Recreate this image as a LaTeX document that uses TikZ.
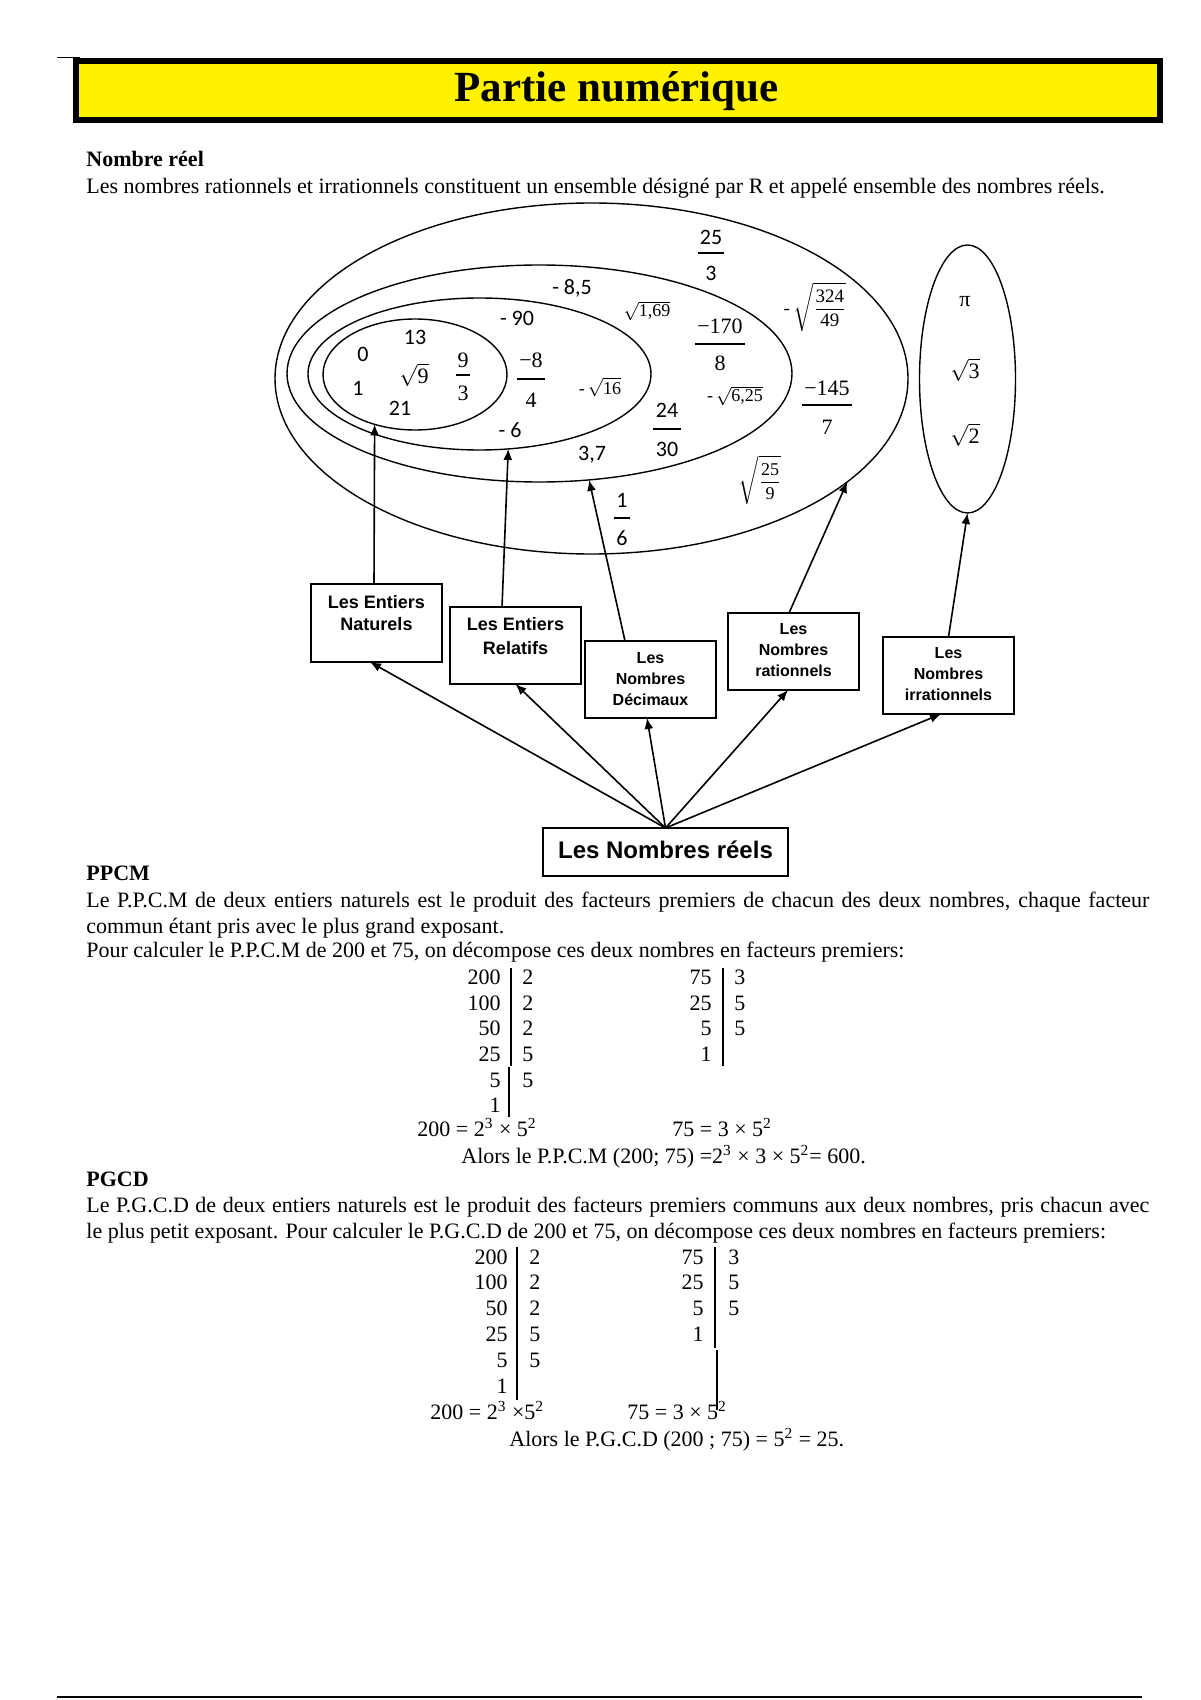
\documentclass[tikz,border=0pt]{standalone}
\usepackage{fontspec}
\setmainfont{Liberation Serif}
\newfontfamily\arialf{Liberation Sans}
\newfontfamily\calib{Carlito}
\usetikzlibrary{shapes.geometric,arrows.meta}
\newcommand\frc[9]{%
  \node[#2] (#1n) at (#3,#5) {#8};
  \draw[fracbar] ({#3-#4},#6) -- ({#3+#4},#6);
  \node[#2] (#1d) at (#3,#7) {#9};}
\begin{document}
\begin{tikzpicture}[x=0.5pt,y=-0.5pt,
  txt/.style={inner sep=0, anchor=base west, font=\fontsize{11}{13}\selectfont},
  btxt/.style={inner sep=0, anchor=base west, font=\bfseries\fontsize{11}{13}\selectfont},
  cal/.style={inner sep=0, font=\calib\fontsize{11}{13}\selectfont},
  tms/.style={inner sep=0, font=\fontsize{11}{13}\selectfont},
  sm/.style={inner sep=0, font=\fontsize{9}{11}\selectfont},
  fracbar/.style={line width=0.6pt},
  ell/.style={draw, ellipse, inner sep=0, outer sep=0, line width=0.7pt},
  cbox/.style={draw, rectangle, inner sep=0, outer sep=0, line width=0.9pt, minimum width=65.5pt, minimum height=38.5pt},
  lbl/.style={align=center, inner sep=0, font=\arialf\bfseries\fontsize{9}{11}\selectfont},
  lbls/.style={align=center, inner sep=0, font=\arialf\bfseries\fontsize{8}{10.5}\selectfont},
  arr/.style={-{Latex[length=5.5pt,width=4.5pt]}, line width=0.8pt},
  tn/.style={inner sep=0, anchor=base east, font=\fontsize{11}{13}\selectfont},
  tf/.style={inner sep=0, anchor=base west, font=\fontsize{11}{13}\selectfont},
  tbar/.style={line width=0.75pt}]
\useasboundingbox (0,0) rectangle (1200,1700);
% header
\draw[line width=0.6pt] (57,57.5) -- (80,57.5);
\node[draw, fill=yellow, line width=3pt, inner sep=0, minimum width=542pt, minimum height=29.5pt] (titlebox) at (618,90.5) {};
\node[inner sep=0, anchor=base, font=\bfseries\fontsize{21.5}{24}\selectfont] (title) at (616.5,102) {Partie numérique};
\node[btxt] (h1) at (86,167) {Nombre réel};
\node[txt] (p1) at (86,194) {Les nombres rationnels et irrationnels constituent un ensemble désigné par R et appelé ensemble des nombres réels.};
% ellipses
\node[ell, minimum width=316.5pt, minimum height=175.5pt] (eQ) at (591.5,378.5) {};
\node[ell, minimum width=252.5pt, minimum height=108.5pt] (eD) at (539.5,373.5) {};
\node[ell, minimum width=171.5pt, minimum height=76pt] (eR) at (479.5,374) {};
\node[ell, minimum width=92pt, minimum height=55.5pt] (eN) at (415,374.5) {};
\node[ell, minimum width=48pt, minimum height=134pt] (eI) at (967.5,379) {};
% contents
\node[cal] (n0) at (363,354) {0};
\node[cal] (n13) at (415,337) {13};
\node[cal] (n1) at (358,388) {1};
\node[cal] (n21) at (400,408) {21};
\node[tms] (s9) at (414,375) {$\sqrt{\mbox{9}}$};
\frc{f93}{tms}{463}{7}{360}{375}{393}{9}{3}
\frc{f84}{tms}{531}{14}{360}{379}{400}{−8}{4}
\node[cal] (m90) at (517,318) {- 90};
\node[cal] (m85) at (572,288) {- 8,5};
\node[cal] (m6) at (510,430) {- 6};
\node[cal] (d37) at (592,455) {3,7};
\node[sm] (s169) at (647,311) {$\sqrt{\mbox{1,69}}$};
\node[sm] (s16) at (600,387) {-\,$\sqrt{\mbox{16}}$};
\node[sm] (s625) at (735,396) {-\,$\sqrt{\mbox{6,25}}$};
\frc{f253}{cal}{711}{13}{237}{253}{273}{25}{3}
\frc{f2430}{cal}{667}{14}{410}{429}{449}{24}{30}
\frc{f16}{cal}{622}{8}{500}{518}{538}{1}{6}
\frc{f170}{tms}{720}{25}{326}{344}{363}{−170}{8}
\frc{f145}{tms}{827}{25}{388}{405}{427}{−145}{7}
\node[inner sep=0, font=\fontsize{9.5}{11}\selectfont] (s324) at (815,307) {-\,$\sqrt{\displaystyle\frac{\mbox{324}}{\mbox{49}}}$};
\node[inner sep=0, font=\fontsize{9}{11}\selectfont] (s259) at (760,480) {$\sqrt{\displaystyle\frac{\mbox{25}}{\mbox{9}}}$};
\node[tms] (pi) at (965,302) {π};
\node[tms] (s3) at (965,370) {$\sqrt{\mbox{3}}$};
\node[tms] (s2) at (965,435) {$\sqrt{\mbox{2}}$};
% boxes
\node[cbox, minimum height=39pt] (nat) at (376.5,623) {};
\node[lbl] (natT) at (376.5,613) {Les Entiers\\Naturels};
\node[cbox] (rel) at (515.5,645.5) {};
\node[lbl, font=\arialf\bfseries\fontsize{9}{12}\selectfont] (relT) at (515.5,636) {Les Entiers\\Relatifs};
\node[cbox] (dec) at (650.5,679.5) {};
\node[lbls] (decT) at (650.5,679) {Les\\Nombres\\Décimaux};
\node[cbox] (rat) at (793.5,651.5) {};
\node[lbls] (ratT) at (793.5,650) {Les\\Nombres\\rationnels};
\node[cbox] (irr) at (948.5,675.5) {};
\node[lbls] (irrT) at (948.5,674) {Les\\Nombres\\irrationnels};
\node[draw, rectangle, inner sep=0, outer sep=0, line width=0.9pt, minimum width=122.5pt, minimum height=24pt] (reel) at (665.5,852) {};
\node[inner sep=0, anchor=base, font=\arialf\bfseries\fontsize{12}{14}\selectfont] (reelT) at (665.5,858) {Les Nombres réels};
% arrows up to sets
\draw[arr] ([xshift=-1.25pt]nat.north) -- (eN.-129.6);
\draw[arr] ([xshift=-6.75pt]rel.north) -- (eR.-69.9);
\draw[arr] ([xshift=-12.75pt]dec.north) -- (eD.-65.5);
\draw[arr] ([xshift=-2.25pt]rat.north) -- (eQ.-22.9);
\draw[arr] (irr.north) -- (eI.south);
% arrows from reels
\draw[arr] (reel.north) -- ([xshift=-3.25pt]nat.south);
\draw[arr] (reel.north) -- (rel.south);
\draw[arr] (reel.north) -- ([xshift=-1.75pt]dec.south);
\draw[arr] (reel.north) -- ([xshift=-2.75pt]rat.south);
\draw[arr] (reel.north) -- ([xshift=-3.75pt]irr.south);
% PPCM
\node[btxt] (h2) at (86,880) {PPCM};
\node[txt] (pp1) at (86,907) {\makebox[531.5pt][s]{Le P.P.C.M de deux entiers naturels est le produit des facteurs premiers de chacun des deux nombres, chaque facteur}};
\node[txt] (pp2) at (86,933) {commun étant pris avec le plus grand exposant.};
\node[txt] (pp3) at (86,957) {Pour calculer le P.P.C.M de 200 et 75, on décompose ces deux nombres en facteurs premiers:};
\node[tn] (a1) at (501,984) {200}; \node[tf] (b1) at (522,984) {2};
\node[tn] (a2) at (501,1010) {100}; \node[tf] (b2) at (522,1010) {2};
\node[tn] (a3) at (501,1035) {50}; \node[tf] (b3) at (522,1035) {2};
\node[tn] (a4) at (501,1061) {25}; \node[tf] (b4) at (522,1061) {5};
\node[tn] (a5) at (501,1087) {5}; \node[tf] (b5) at (522,1087) {5};
\node[tn] (a6) at (501,1112) {1};
\draw[tbar] (511,968) -- (511,1066);
\draw[tbar] (509,1067) -- (509,1117);
\node[tn] (c1) at (712,984) {75}; \node[tf] (d1) at (734,984) {3};
\node[tn] (c2) at (712,1010) {25}; \node[tf] (d2) at (734,1010) {5};
\node[tn] (c3) at (712,1035) {5}; \node[tf] (d3) at (734,1035) {5};
\node[tn] (c4) at (712,1061) {1};
\draw[tbar] (723,968) -- (723,1066);
\node[txt] (e1) at (417,1136) {200 = 2\textsuperscript{3} × 5\textsuperscript{2}};
\node[txt] (e2) at (672,1136) {75 = 3 × 5\textsuperscript{2}};
\node[txt] (e3) at (461,1163) {Alors le P.P.C.M (200; 75) =2\textsuperscript{3} × 3 × 5\textsuperscript{2}= 600.};
% PGCD
\node[btxt] (h3) at (86,1186) {PGCD};
\node[txt] (pg1) at (86,1212) {\makebox[531.5pt][s]{Le P.G.C.D de deux entiers naturels est le produit des facteurs premiers communs aux deux nombres, pris chacun avec}};
\node[txt] (pg2) at (86,1238) {le plus petit exposant. Pour calculer le P.G.C.D de 200 et 75, on décompose ces deux nombres en facteurs premiers:};
\node[tn] (g1) at (508,1264) {200}; \node[tf] (h1f) at (529,1264) {2};
\node[tn] (g2) at (508,1289) {100}; \node[tf] (h2f) at (529,1289) {2};
\node[tn] (g3) at (508,1315) {50}; \node[tf] (h3f) at (529,1315) {2};
\node[tn] (g4) at (508,1341) {25}; \node[tf] (h4f) at (529,1341) {5};
\node[tn] (g5) at (508,1367) {5}; \node[tf] (h5f) at (529,1367) {5};
\node[tn] (g6) at (508,1393) {1};
\draw[tbar] (517,1247) -- (517,1400);
\node[tn] (k1) at (704,1264) {75}; \node[tf] (l1) at (728,1264) {3};
\node[tn] (k2) at (704,1289) {25}; \node[tf] (l2) at (728,1289) {5};
\node[tn] (k3) at (704,1315) {5}; \node[tf] (l3) at (728,1315) {5};
\node[tn] (k4) at (704,1341) {1};
\draw[tbar] (715,1247) -- (715,1348);
\draw[tbar] (717,1350) -- (717,1410);
\node[txt] (q1) at (430,1419) {200 = 2\textsuperscript{3} ×5\textsuperscript{2}};
\node[txt] (q2) at (627,1419) {75 = 3 × 5\textsuperscript{2}};
\node[txt] (q3) at (509,1446) {Alors le P.G.C.D (200 ; 75) = 5\textsuperscript{2} = 25.};
% bottom rule
\draw[line width=1pt] (57,1697) -- (1142,1697);
\end{tikzpicture}
\end{document}
